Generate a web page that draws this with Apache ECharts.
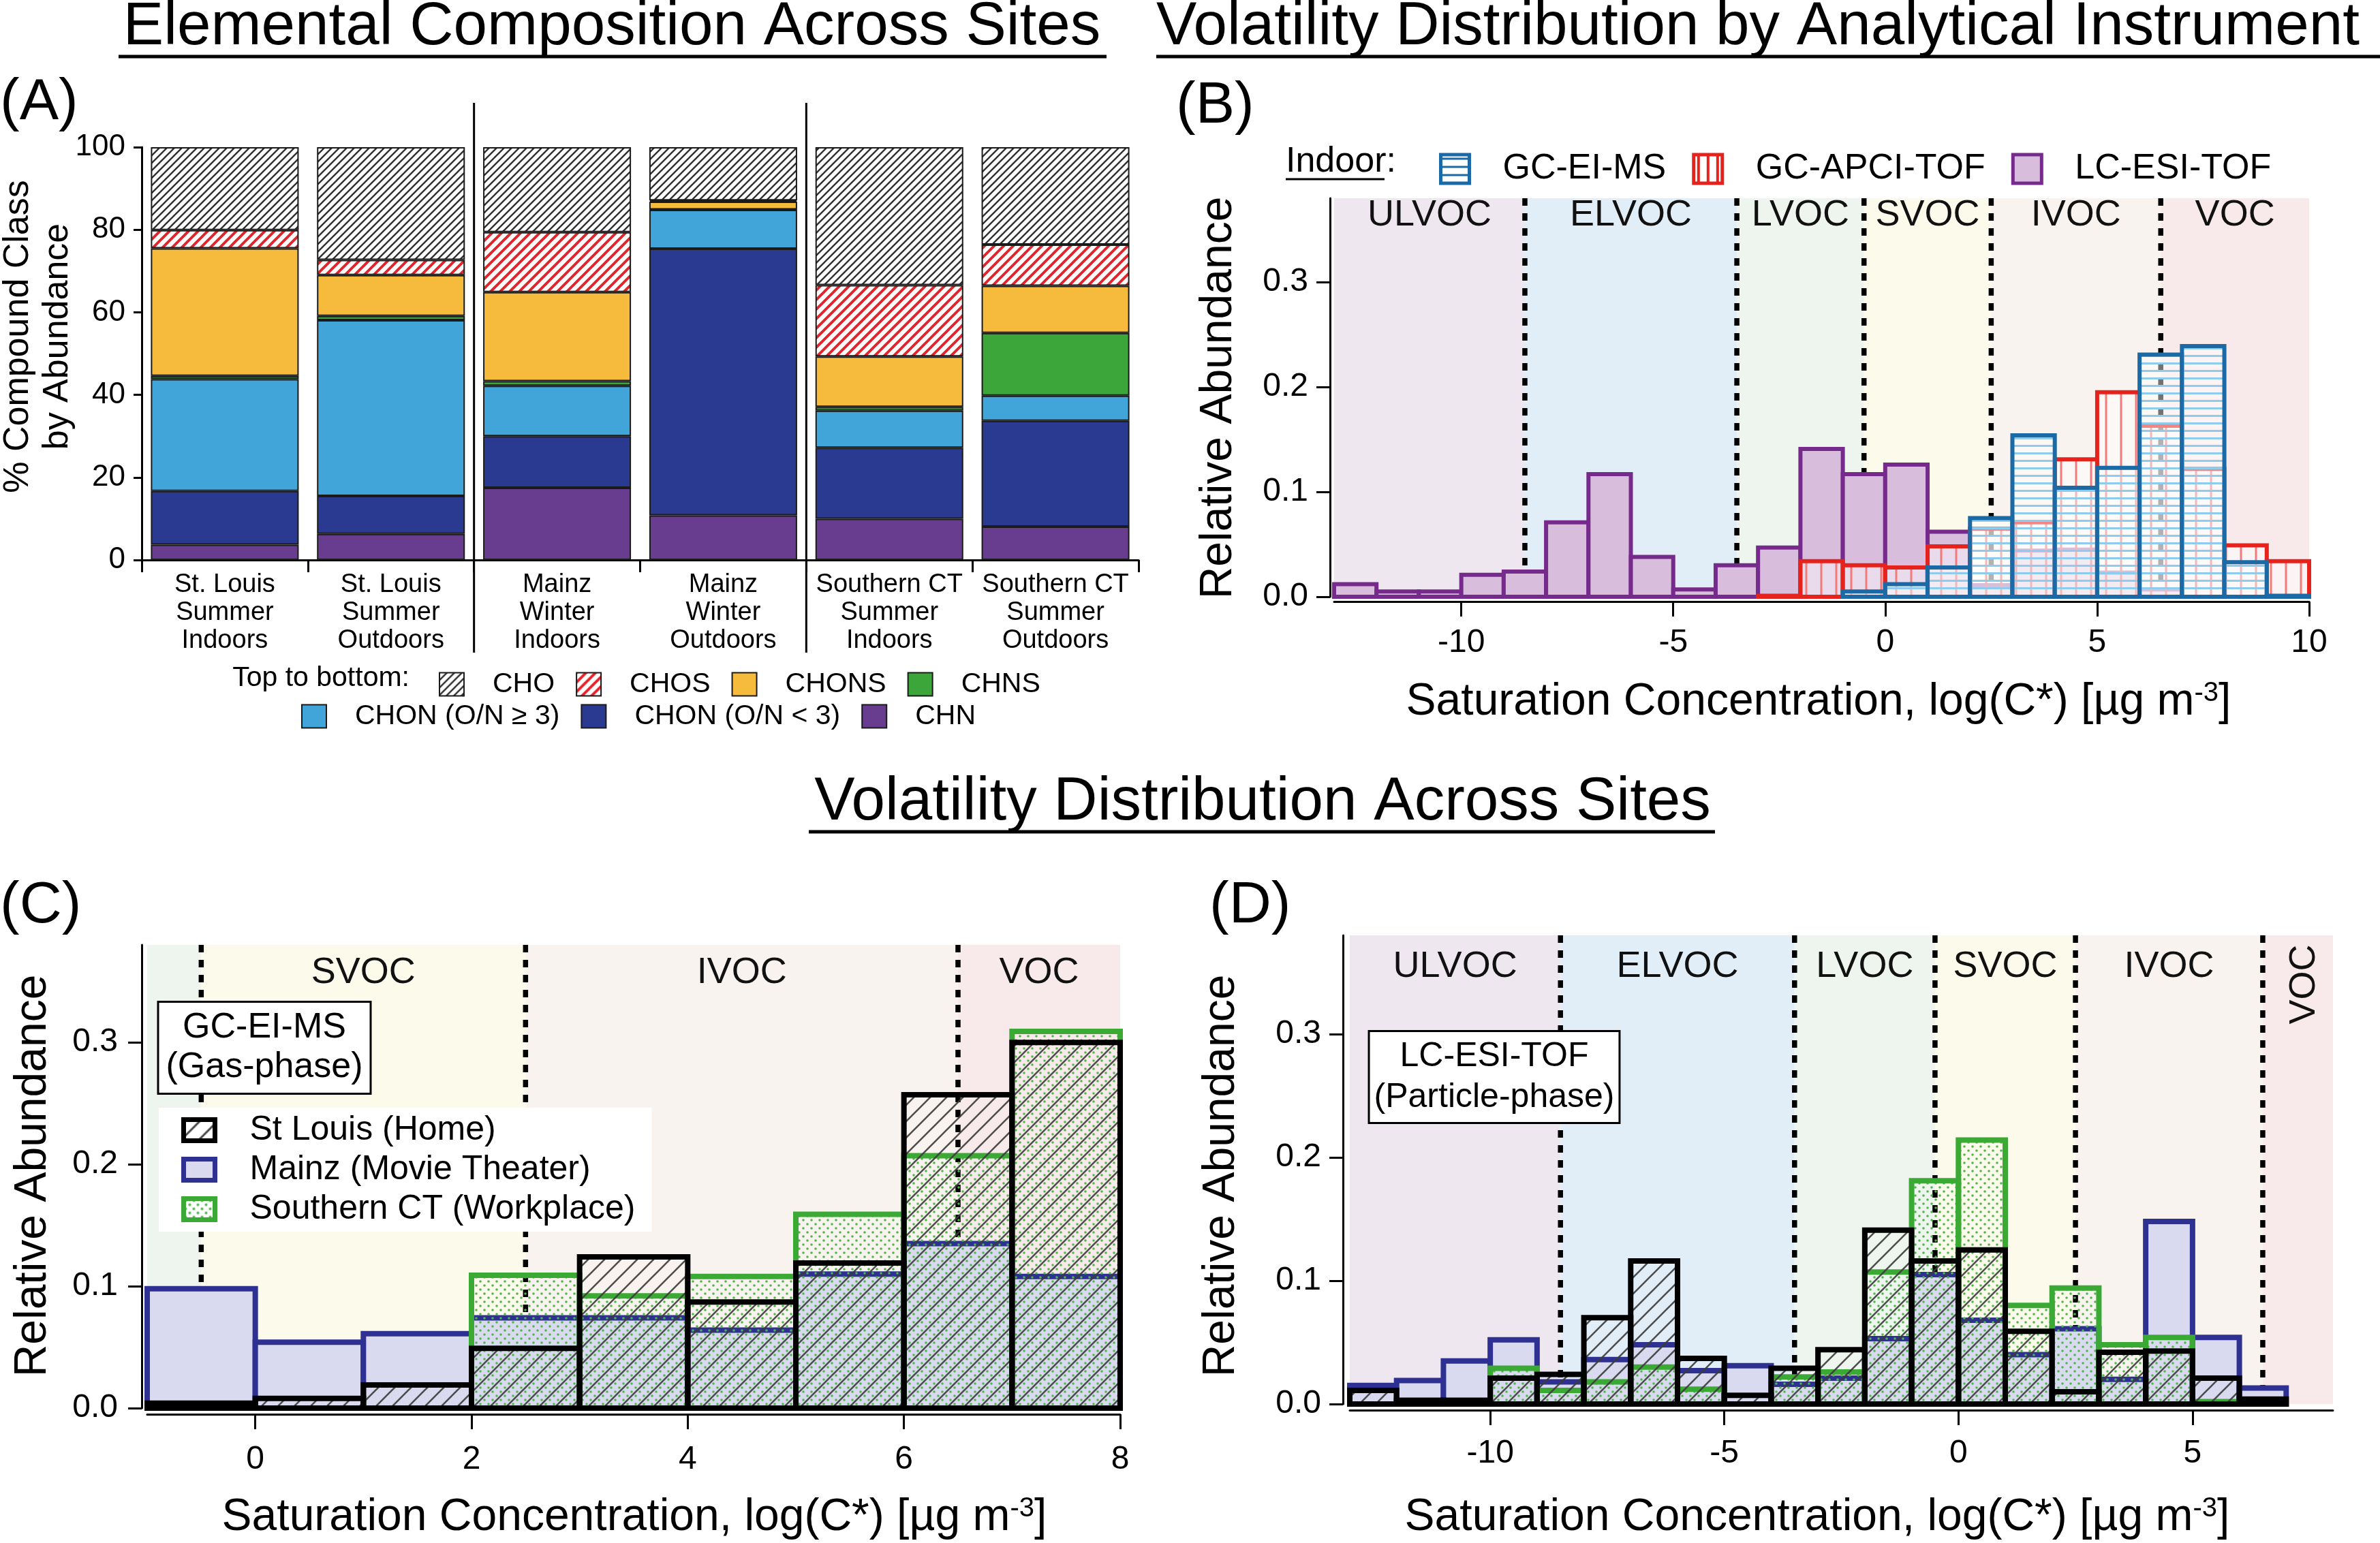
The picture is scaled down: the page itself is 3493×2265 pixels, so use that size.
<!DOCTYPE html>
<html>
<head>
<meta charset="utf-8">
<title>Elemental Composition and Volatility Distributions</title>
<script src="https://cdn.jsdelivr.net/npm/echarts@6.0.0/dist/echarts.min.js"></script>
<style>
html,body{margin:0;padding:0;background:#ffffff;}
#chart{width:3493px;height:2265px;}
</style>
</head>
<body>
<div id="chart"></div>
<script>
// ================= DATA =================
// ---- Panel A: elemental composition (% of compounds, stacked bottom -> top) ----
const siteLabels = ['St. Louis\nSummer\nIndoors', 'St. Louis\nSummer\nOutdoors', 'Mainz\nWinter\nIndoors',
                    'Mainz\nWinter\nOutdoors', 'Southern CT\nSummer\nIndoors', 'Southern CT\nSummer\nOutdoors'];
const chnPct      = [3.7, 6.3, 17.5, 10.8, 10.0, 8.1];
const chonLowPct  = [13.0, 9.2, 12.5, 64.6, 17.2, 25.6];
const chonHighPct = [27.1, 42.6, 12.2, 9.4, 9.0, 6.1];
const chnsPct     = [0.8, 1.0, 1.1, 0.1, 0.9, 15.2];
const chonsPct    = [30.9, 9.9, 21.6, 1.9, 12.2, 11.4];
const chosPct     = [4.4, 3.7, 14.5, 0.3, 17.3, 10.0];
const choPct      = [20.1, 27.3, 20.6, 12.9, 33.4, 23.6];
const siteGroupBreaks = [2, 4];

// ---- Panel B: indoor volatility distribution by instrument (bins of width 1) ----
const binWidth = 1;
const binLeftB   = [-13, -12, -11, -10, -9, -8, -7, -6, -5, -4, -3, -2, -1, 0, 1, 2, 3, 4, 5, 6, 7, 8, 9];
const lcEsiTofB  = [0.012, 0.005, 0.005, 0.021, 0.024, 0.071, 0.117, 0.038, 0.007, 0.030, 0.047, 0.141, 0.117, 0.126, 0.062, 0.011, 0.044, 0.045, 0.023, 0.007, null, null, null];
const gcApciTofB = [null, null, null, null, null, null, null, null, null, null, 0.001, 0.034, 0.030, 0.028, 0.048, 0.065, 0.071, 0.131, 0.195, 0.163, 0.122, 0.049, 0.034];
const gcEiMsB    = [null, null, null, null, null, null, null, null, null, null, null, null, 0.005, 0.012, 0.028, 0.075, 0.154, 0.104, 0.123, 0.231, 0.239, 0.033, 0.001];
const logTicksB  = [-10, -5, 0, 5, 10];

// ---- Panel C: GC-EI-MS (gas phase) across sites ----
const binLeftC  = [-1, 0, 1, 2, 3, 4, 5, 6, 7];
const stLouisC  = [0.004, 0.008, 0.019, 0.049, 0.124, 0.087, 0.119, 0.257, 0.300];
const mainzC    = [0.098, 0.054, 0.061, 0.074, 0.074, 0.064, 0.110, 0.135, 0.108];
const southCtC  = [null, null, null, 0.109, 0.092, 0.108, 0.159, 0.207, 0.309];
const logTicksC = [0, 2, 4, 6, 8];

// ---- Panel D: LC-ESI-TOF (particle phase) across sites ----
const binLeftD  = [-13, -12, -11, -10, -9, -8, -7, -6, -5, -4, -3, -2, -1, 0, 1, 2, 3, 4, 5, 6];
const stLouisD  = [0.011, 0.003, 0.003, 0.021, 0.024, 0.070, 0.116, 0.037, 0.007, 0.029, 0.044, 0.141, 0.116, 0.125, 0.059, 0.010, 0.042, 0.043, 0.021, 0.004];
const mainzD    = [0.015, 0.019, 0.035, 0.052, 0.018, 0.036, 0.048, 0.027, 0.031, 0.016, 0.021, 0.053, 0.105, 0.068, 0.040, 0.061, 0.020, 0.148, 0.054, 0.013];
const southCtD  = [null, null, null, 0.029, 0.011, 0.018, 0.030, 0.012, null, 0.022, 0.026, 0.107, 0.181, 0.214, 0.080, 0.094, 0.048, 0.054, 0.002, null];
const logTicksD = [-10, -5, 0, 5];

const abundanceTicks = [0, 0.1, 0.2, 0.3];

// ---- Volatility classes ----
const volBandsB = [[-13, -8.5, 'ULVOC'], [-8.5, -3.5, 'ELVOC'], [-3.5, -0.5, 'LVOC'], [-0.5, 2.5, 'SVOC'], [2.5, 6.5, 'IVOC'], [6.5, 10, 'VOC']];
const volBandsC = [[-1, -0.5, 'LVOC'], [-0.5, 2.5, 'SVOC'], [2.5, 6.5, 'IVOC'], [6.5, 8, 'VOC']];
const volBandsD = [[-13, -8.5, 'ULVOC'], [-8.5, -3.5, 'ELVOC'], [-3.5, -0.5, 'LVOC'], [-0.5, 2.5, 'SVOC'], [2.5, 6.5, 'IVOC'], [6.5, 8, 'VOC']];
const volBoundsB = [-8.5, -3.5, -0.5, 2.5, 6.5];
const volBoundsC = [-0.5, 2.5, 6.5];
const volBoundsD = [-8.5, -3.5, -0.5, 2.5, 6.5];

// ================= STYLES =================
const FONT = '"Liberation Sans", Arial, Helvetica, sans-serif';
const bandColors = {ULVOC: '#EFE7F0', ELVOC: '#E2EEF7', LVOC: '#EEF4EE', SVOC: '#FBFAEB', IVOC: '#F8F3EE', VOC: '#F8EAEB'};

function tile(w, h, bg, draw) {
  const c = document.createElement('canvas');
  c.width = w; c.height = h;
  const g = c.getContext('2d');
  if (bg) { g.fillStyle = bg; g.fillRect(0, 0, w, h); }
  draw(g, w, h);
  return {image: c, repeat: 'repeat'};
}
function diag(color, lw) {
  return function (g, w, h) {
    g.strokeStyle = color; g.lineWidth = lw; g.beginPath();
    for (let k = -1; k <= 1; k++) { g.moveTo(k * w - 2, h + 2); g.lineTo(w + k * w + 2, -2); }
    g.stroke();
  };
}
function dots(color, r) {
  return function (g, w, h) {
    g.fillStyle = color;
    [[w * 0.25, h * 0.25], [w * 0.75, h * 0.75]].forEach(function (p) { g.beginPath(); g.arc(p[0], p[1], r, 0, Math.PI * 2); g.fill(); });
  };
}
function hLines(color, lw) { return function (g, w, h) { g.fillStyle = color; g.fillRect(0, h / 2 - lw / 2, w, lw); }; }
function vLines(color, lw) { return function (g, w, h) { g.fillStyle = color; g.fillRect(w / 2 - lw / 2, 0, lw, h); }; }

const choFill  = tile(11, 11, '#ffffff', diag('#303030', 2.4));
const chosFill = tile(14, 14, '#ffffff', diag('#E8222A', 4));
const stlFill  = tile(24, 24, null, diag('rgba(60,60,60,0.9)', 2.6));
const stlIcon  = tile(26, 26, '#ffffff', diag('#444', 3));
const sctFill  = tile(12, 12, null, dots('#4DB848', 1.8));
const sctIcon  = tile(12, 12, '#ffffff', dots('#4DB848', 2));
const eiFill   = tile(8, 11, 'rgba(255,255,255,0.45)', hLines('#8FCBEC', 3));
const eiIcon   = tile(8, 12, '#ffffff', hLines('#1B6AA5', 3));
const apciFill = tile(22, 8, 'rgba(255,255,255,0.45)', vLines('#F27A78', 3));
const apciIcon = tile(14, 8, '#ffffff', vLines('#E5231C', 4));

const colCHN = '#683D8F', colCHONlow = '#2B3A91', colCHONhigh = '#42A5DA', colCHNS = '#3DA63A', colCHONS = '#F6BA3C';
const colEI = '#1B6AA5', colAPCI = '#E5231C', colESI = '#762A8C', colESIfill = '#D8BEDC';
const colStL = '#000000', colMainz = '#2E3192', colMainzFill = '#D9DAEF', colSct = '#3AAA35';

// ================= HELPERS =================
function histSeries(name, xi, yi, bins, vals, fill, stroke, lw, z) {
  const data = [];
  bins.forEach(function (b, i) { if (vals[i] != null) data.push([b, b + binWidth, vals[i]]); });
  return {
    type: 'custom', name: name, xAxisIndex: xi, yAxisIndex: yi, z: z, data: data,
    encode: {x: [0, 1], y: 2},
    itemStyle: {color: stroke},
    renderItem: function (params, api) {
      const p0 = api.coord([api.value(0), api.value(2)]);
      const p1 = api.coord([api.value(1), 0]);
      return {type: 'rect', shape: {x: p0[0], y: p0[1], width: p1[0] - p0[0], height: p1[1] - p0[1]},
              style: {fill: fill, stroke: stroke, lineWidth: lw}};
    }
  };
}
function bandSeries(xi, yi, bands, cfg) {
  return {
    type: 'custom', xAxisIndex: xi, yAxisIndex: yi, z: 1, silent: true,
    data: bands.map(function (b) { return [b[0], b[1], 0]; }),
    encode: {x: [0, 1], y: 2},
    renderItem: function (params, api) {
      const cs = params.coordSys;
      const cls = bands[params.dataIndex][2];
      const x0 = api.coord([api.value(0), 0])[0], x1 = api.coord([api.value(1), 0])[0];
      const children = [{type: 'rect', shape: {x: x0, y: cs.y, width: x1 - x0, height: cs.height}, style: {fill: bandColors[cls]}}];
      if ((cfg.hide || []).indexOf(cls) < 0) {
        const rot = (cfg.rotate || []).indexOf(cls) >= 0;
        children.push({type: 'text', x: (x0 + x1) / 2 + (rot ? 10 : 0), y: cs.y + (rot ? cfg.rotDy : cfg.labelDy),
          rotation: rot ? Math.PI / 2 : 0,
          style: {text: cls, fontSize: 54, fontFamily: FONT, fill: '#111', align: 'center', verticalAlign: 'middle'}});
      }
      return {type: 'group', children: children};
    }
  };
}
function dashSeries(xi, yi, bounds) {
  return {
    type: 'custom', xAxisIndex: xi, yAxisIndex: yi, z: 2, silent: true,
    data: bounds.map(function (v) { return [v, 0]; }),
    encode: {x: 0, y: 1},
    renderItem: function (params, api) {
      const cs = params.coordSys;
      const x = api.coord([api.value(0), 0])[0];
      return {type: 'line', shape: {x1: x, y1: cs.y, x2: x, y2: cs.y + cs.height},
              style: {stroke: '#000', lineWidth: 7.5, lineDash: [11, 11]}};
    }
  };
}
function valueX(grid, min, max, ticks, offset, margin) {
  return {type: 'value', gridIndex: grid, min: min, max: max, offset: offset,
    axisLine: {show: true, onZero: false, lineStyle: {color: '#000', width: 3}},
    axisTick: {show: true, length: 22, customValues: ticks, lineStyle: {color: '#000', width: 3}},
    axisLabel: {customValues: ticks, fontSize: 48, margin: margin, color: '#000', fontFamily: FONT},
    splitLine: {show: false}};
}
function abundY(grid, offset, margin) {
  return {type: 'value', gridIndex: grid, min: 0, max: 0.38, offset: offset,
    axisLine: {show: true, onZero: false, lineStyle: {color: '#000', width: 3}},
    axisTick: {show: true, length: 20, customValues: abundanceTicks, lineStyle: {color: '#000', width: 3}},
    axisLabel: {customValues: abundanceTicks, fontSize: 48, margin: margin, color: '#000', fontFamily: FONT,
      formatter: function (v) { return (Math.abs(v * 10 - Math.round(v * 10)) < 1e-6) ? v.toFixed(1) : ''; }},
    splitLine: {show: false}};
}
function txt(x, y, text, size, extra) {
  const st = Object.assign({text: text, fontSize: size, fontFamily: FONT, fill: '#000', align: 'center', verticalAlign: 'middle'}, (extra && extra.style) || {});
  const el = {type: 'text', x: x, y: y, z: 100, style: st};
  if (extra && extra.rotation) el.rotation = extra.rotation;
  return el;
}
function hline(x1, x2, y, w) {
  return {type: 'line', z: 100, shape: {x1: x1, y1: y, x2: x2, y2: y}, style: {stroke: '#000', lineWidth: w}};
}
const satTitle = '{n|Saturation Concentration, log(C*) [µg m}{s|-3}{n|]}';
const satRich = {n: {fontSize: 66, fontFamily: FONT, fill: '#000'}, s: {fontSize: 40, fontFamily: FONT, fill: '#000', verticalAlign: 'top'}};

// ================= SERIES =================
const stackA = [
  ['CHN', chnPct, colCHN], ['CHON (O/N < 3)', chonLowPct, colCHONlow], ['CHON (O/N ≥ 3)', chonHighPct, colCHONhigh],
  ['CHNS', chnsPct, colCHNS], ['CHONS', chonsPct, colCHONS], ['CHOS', chosPct, chosFill], ['CHO', choPct, choFill]
];
const series = [];
stackA.forEach(function (s) {
  series.push({type: 'bar', name: s[0], xAxisIndex: 0, yAxisIndex: 0, stack: 'pct', data: s[1],
    barCategoryGap: '11%', itemStyle: {color: s[2], borderColor: '#1a1a1a', borderWidth: 2}});
});
series.push({
  type: 'custom', xAxisIndex: 1, yAxisIndex: 0, z: 5, silent: true,
  data: siteGroupBreaks.map(function (v) { return [v, 0]; }), encode: {x: 0, y: 1},
  renderItem: function (params, api) {
    const cs = params.coordSys;
    const x = api.coord([api.value(0), 0])[0];
    return {type: 'line', shape: {x1: x, y1: cs.y - 65, x2: x, y2: cs.y + cs.height + 136}, style: {stroke: '#000', lineWidth: 3}};
  }
});
// Panel B
series.push(bandSeries(2, 1, volBandsB, {labelDy: 25}));
series.push(dashSeries(2, 1, volBoundsB));
series.push(histSeries('LC-ESI-TOF', 2, 1, binLeftB, lcEsiTofB, colESIfill, colESI, 6, 3));
series.push(histSeries('GC-APCI-TOF', 2, 1, binLeftB, gcApciTofB, apciFill, colAPCI, 6, 4));
series.push(histSeries('GC-EI-MS', 2, 1, binLeftB, gcEiMsB, eiFill, colEI, 6, 5));
// Panel C
series.push(bandSeries(3, 2, volBandsC, {labelDy: 41, hide: ['LVOC']}));
series.push(dashSeries(3, 2, volBoundsC));
series.push(histSeries('Mainz (Movie Theater)', 3, 2, binLeftC, mainzC, colMainzFill, colMainz, 8, 3));
series.push(histSeries('Southern CT (Workplace)', 3, 2, binLeftC, southCtC, sctFill, colSct, 8, 4));
series.push(histSeries('St Louis (Home)', 3, 2, binLeftC, stLouisC, stlFill, colStL, 8, 5));
// Panel D
series.push(bandSeries(4, 3, volBandsD, {labelDy: 46, rotate: ['VOC'], rotDy: 72}));
series.push(dashSeries(4, 3, volBoundsD));
series.push(histSeries('Mainz (Movie Theater)', 4, 3, binLeftD, mainzD, colMainzFill, colMainz, 8, 3));
series.push(histSeries('Southern CT (Workplace)', 4, 3, binLeftD, southCtD, sctFill, colSct, 8, 4));
series.push(histSeries('St Louis (Home)', 4, 3, binLeftD, stLouisD, stlFill, colStL, 8, 5));

// ================= OPTION =================
const option = {
  animation: false,
  backgroundColor: '#ffffff',
  textStyle: {fontFamily: FONT},
  grid: [
    {left: 208, top: 216, width: 1463, height: 606},
    {left: 1958, top: 291, width: 1431, height: 585},
    {left: 216, top: 1387, width: 1428, height: 680},
    {left: 1981, top: 1373, width: 1443, height: 688}
  ],
  xAxis: [
    {type: 'category', gridIndex: 0, data: siteLabels, offset: 11,
     axisLine: {lineStyle: {color: '#000', width: 3}},
     axisTick: {show: true, alignWithLabel: false, length: 18, lineStyle: {color: '#000', width: 3}},
     axisLabel: {fontSize: 38, lineHeight: 41, color: '#000', margin: 5, interval: 0, fontFamily: FONT}},
    {type: 'value', gridIndex: 0, min: 0, max: 6, show: false},
    valueX(1, -13, 10, logTicksB, 7, 37),
    valueX(2, -1, 8, logTicksC, 9, 43),
    valueX(3, -13, 8, logTicksD, 9, 40)
  ],
  yAxis: [
    {type: 'value', gridIndex: 0, min: 0, max: 100, interval: 20,
     axisLine: {show: true, lineStyle: {color: '#000', width: 3}},
     axisTick: {show: true, length: 12, lineStyle: {color: '#000', width: 3}},
     axisLabel: {fontSize: 44, margin: 24, color: '#000', fontFamily: FONT},
     splitLine: {show: false}},
    abundY(1, 6, 32),
    abundY(2, 8, 35),
    abundY(3, 10, 32)
  ],
  legend: [
    {left: 639, top: 979, orient: 'horizontal', itemWidth: 36, itemHeight: 34, itemGap: 31, selectedMode: false, z: 10,
     data: ['CHO', 'CHOS', 'CHONS', 'CHNS'], icon: 'rect',
     textStyle: {fontSize: 41, fontFamily: FONT, color: '#000', padding: [0, 0, 0, 37]}},
    {left: 437, top: 1026, orient: 'horizontal', itemWidth: 36, itemHeight: 34, itemGap: 31, selectedMode: false, z: 10,
     data: ['CHON (O/N ≥ 3)', 'CHON (O/N < 3)', 'CHN'], icon: 'rect',
     textStyle: {fontSize: 41, fontFamily: FONT, color: '#000', padding: [0, 0, 0, 37]}},
    {left: 2107, top: 217, orient: 'horizontal', itemWidth: 42, itemHeight: 42, itemGap: 38, selectedMode: false, z: 10,
     data: [
       {name: 'GC-EI-MS', icon: 'rect', itemStyle: {color: eiIcon, borderColor: colEI, borderWidth: 5}},
       {name: 'GC-APCI-TOF', icon: 'rect', itemStyle: {color: apciIcon, borderColor: colAPCI, borderWidth: 5}},
       {name: 'LC-ESI-TOF', icon: 'rect', itemStyle: {color: colESIfill, borderColor: colESI, borderWidth: 5}}
     ],
     textStyle: {fontSize: 52, fontFamily: FONT, color: '#000', padding: [0, 0, 0, 44]}},
    {left: 233, top: 1626, orient: 'vertical', itemWidth: 46, itemHeight: 31, itemGap: 8, selectedMode: false, z: 10,
     backgroundColor: '#ffffff', padding: [8, 24, 8, 33],
     data: [
       {name: 'St Louis (Home)', icon: 'rect', itemStyle: {color: stlIcon, borderColor: colStL, borderWidth: 7}},
       {name: 'Mainz (Movie Theater)', icon: 'rect', itemStyle: {color: colMainzFill, borderColor: colMainz, borderWidth: 7}},
       {name: 'Southern CT (Workplace)', icon: 'rect', itemStyle: {color: sctIcon, borderColor: colSct, borderWidth: 7}}
     ],
     textStyle: {fontSize: 50, fontFamily: FONT, color: '#000', padding: [0, 0, 0, 46]}}
  ],
  graphic: {elements: [
    // titles
    txt(898, 40, 'Elemental Composition Across Sites', 89),
    hline(174, 1624, 83, 5),
    txt(1697, 40, 'Volatility Distribution by Analytical Instrument', 89, {style: {align: 'left'}}),
    hline(1697, 3493, 83, 5),
    txt(1853, 1178, 'Volatility Distribution Across Sites', 89),
    hline(1187, 2517, 1221, 5),
    // panel letters
    txt(0, 151, '(A)', 86, {style: {align: 'left'}}),
    txt(1726, 156, '(B)', 86, {style: {align: 'left'}}),
    txt(0, 1330, '(C)', 86, {style: {align: 'left'}}),
    txt(1775, 1330, '(D)', 86, {style: {align: 'left'}}),
    // axis titles
    txt(56, 494, '% Compound Class\nby Abundance', 52, {rotation: Math.PI / 2, style: {lineHeight: 58}}),
    txt(2669, 1031, satTitle, 66, {style: {rich: satRich}}),
    txt(1789, 584, 'Relative Abundance', 66, {rotation: Math.PI / 2}),
    txt(931, 2228, satTitle, 66, {style: {rich: satRich}}),
    txt(49, 1726, 'Relative Abundance', 66, {rotation: Math.PI / 2}),
    txt(2667, 2228, satTitle, 66, {style: {rich: satRich}}),
    txt(1793, 1726, 'Relative Abundance', 66, {rotation: Math.PI / 2}),
    // legend captions
    txt(601, 996, 'Top to bottom:', 41, {style: {align: 'right'}}),
    txt(1887, 238, 'Indoor:', 52, {style: {align: 'left'}}),
    hline(1887, 2032, 263, 3),
    // instrument boxes
    txt(388, 1538, 'GC-EI-MS\n(Gas-phase)', 52, {style: {lineHeight: 58, padding: [8, 10, 8, 10], borderColor: '#000', borderWidth: 3, backgroundColor: '#ffffff'}}),
    txt(2193, 1581, 'LC-ESI-TOF\n(Particle-phase)', 50, {style: {lineHeight: 60, padding: [6, 6, 6, 6], borderColor: '#000', borderWidth: 3, backgroundColor: '#ffffff'}})
  ]},
  series: series
};

const chart = echarts.init(document.getElementById('chart'), null, {renderer: 'canvas', width: 3493, height: 2265});
chart.setOption(option);
</script>
</body>
</html>
